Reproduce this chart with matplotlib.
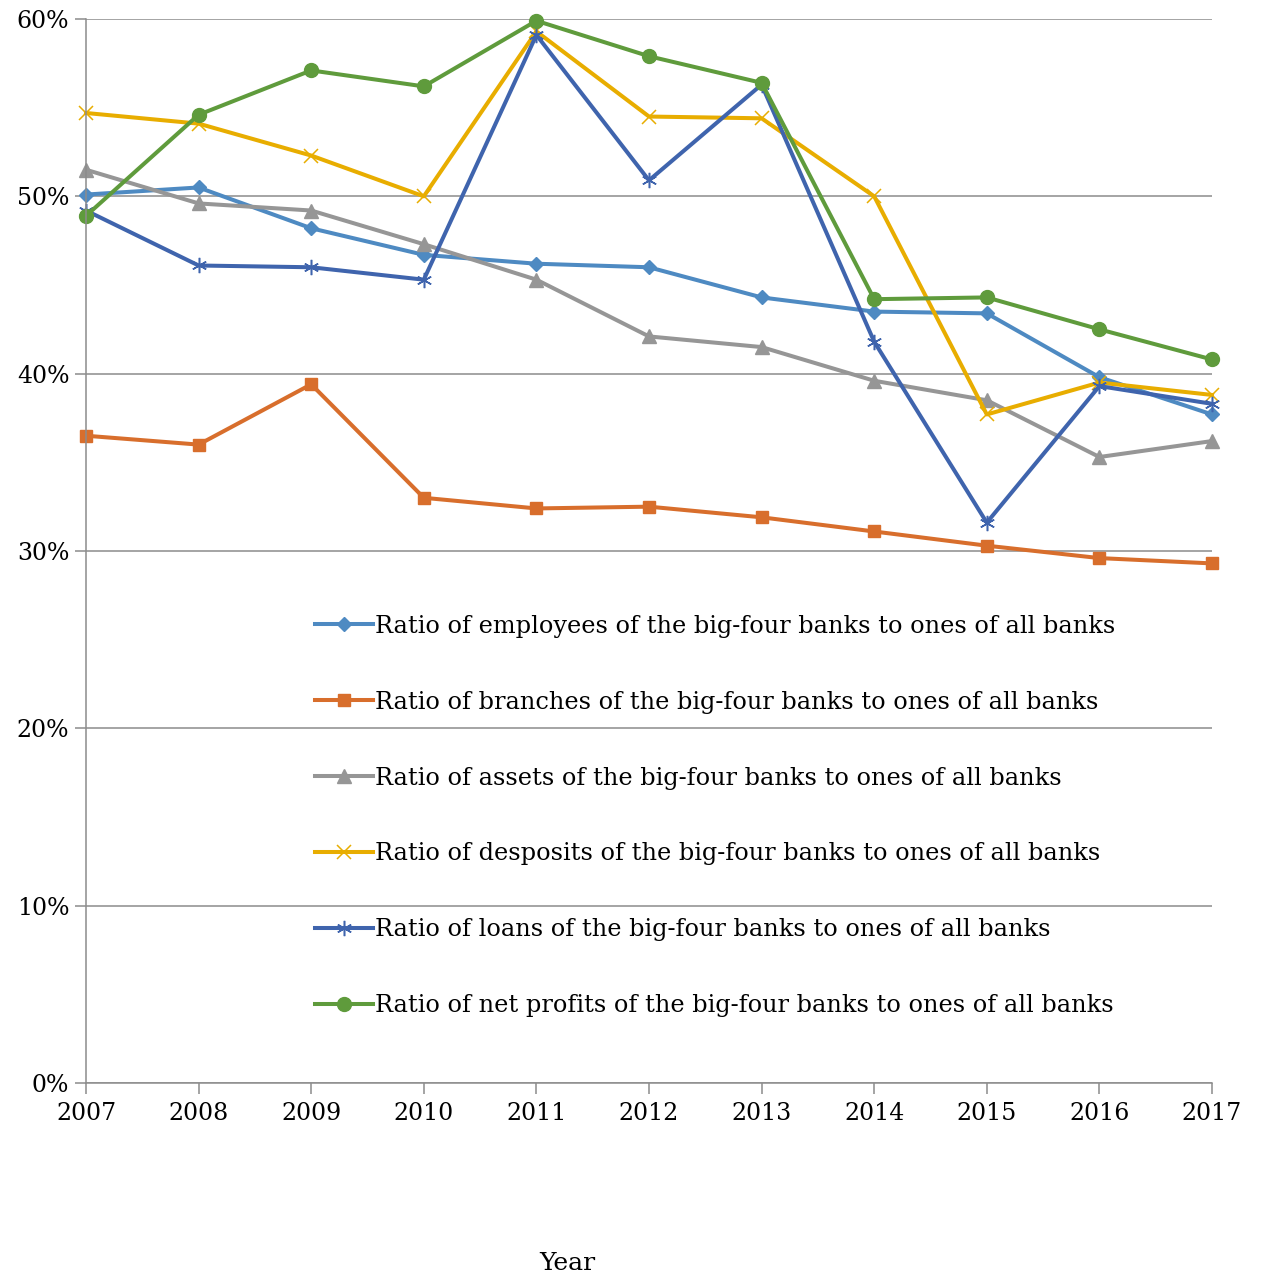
import matplotlib
matplotlib.use('Agg')
import matplotlib.pyplot as plt
from matplotlib.ticker import FuncFormatter

years = [2007, 2008, 2009, 2010, 2011, 2012, 2013, 2014, 2015, 2016, 2017]

employees = [50.1, 50.5, 48.2, 46.7, 46.2, 46.0, 44.3, 43.5, 43.4, 39.8, 37.7]
branches = [36.5, 36.0, 39.4, 33.0, 32.4, 32.5, 31.9, 31.1, 30.3, 29.6, 29.3]
assets = [51.5, 49.6, 49.2, 47.3, 45.3, 42.1, 41.5, 39.6, 38.5, 35.3, 36.2]
deposits = [54.7, 54.1, 52.3, 50.0, 59.3, 54.5, 54.4, 50.0, 37.7, 39.5, 38.8]
loans = [49.2, 46.1, 46.0, 45.3, 59.1, 50.9, 56.3, 41.8, 31.6, 39.3, 38.3]
net_profits = [48.9, 54.6, 57.1, 56.2, 59.9, 57.9, 56.4, 44.2, 44.3, 42.5, 40.8]

labels = [
    'Ratio of employees of the big-four banks to ones of all banks',
    'Ratio of branches of the big-four banks to ones of all banks',
    'Ratio of assets of the big-four banks to ones of all banks',
    'Ratio of desposits of the big-four banks to ones of all banks',
    'Ratio of loans of the big-four banks to ones of all banks',
    'Ratio of net profits of the big-four banks to ones of all banks',
]

plt.rcParams['font.family'] = ['DejaVu Serif']

fig = plt.figure(figsize=(12.61, 12.81), dpi=100)
ax = fig.add_axes([86 / 1261, 1 - 1083 / 1281, (1212 - 86) / 1261, (1083 - 19) / 1281])

series = [employees, branches, assets, deposits, loans, net_profits]
colors = ['#4e8ac2', '#d86e2c', '#969696', '#e8ad00', '#3f64ad', '#5f9b3c']
markers = ['D', 's', '^', 'x', (6, 2, 0), 'o']
msizes = [7.5, 9, 9.5, 10, 11, 10]

for vals, lab, c, m, ms in zip(series, labels, colors, markers, msizes):
    if m in ('x', (6, 2, 0)):
        # thin-stroked cross markers
        ax.plot(years, vals, color=c, lw=2.9, marker=m, ms=ms, mew=1.1,
                label=lab, clip_on=False)
    else:
        ax.plot(years, vals, color=c, lw=2.9, marker=m, ms=ms, label=lab,
                clip_on=False)

ax.set_xlim(2007, 2017)
ax.set_ylim(0, 60)
ax.set_xticks(years)
ax.set_yticks(range(0, 61, 10))
ax.yaxis.set_major_formatter(FuncFormatter(lambda v, p: '%d%%' % v))
ax.grid(axis='y', color='#8c8c8c', lw=1.1)
ax.set_axisbelow(True)
for s in ['top', 'right']:
    ax.spines[s].set_visible(False)
for s in ['left', 'bottom']:
    ax.spines[s].set_color('#8c8c8c')
    ax.spines[s].set_linewidth(1.1)
ax.tick_params(axis='both', colors='#8c8c8c', length=8, width=1.1,
               labelsize=17, labelcolor='black')
ax.tick_params(axis='x', pad=6)
ax.tick_params(axis='y', pad=4)

leg = ax.legend(loc='upper left', bbox_to_anchor=(0.195, 0.449), frameon=False,
                fontsize=17.3, labelspacing=2.2, handlelength=2.4,
                handletextpad=0.1, borderaxespad=0)

fig.text(567 / 1261, 1 - 1263 / 1281, 'Year', ha='center', va='center',
         fontsize=18)

fig.savefig('out.png', dpi=100)
